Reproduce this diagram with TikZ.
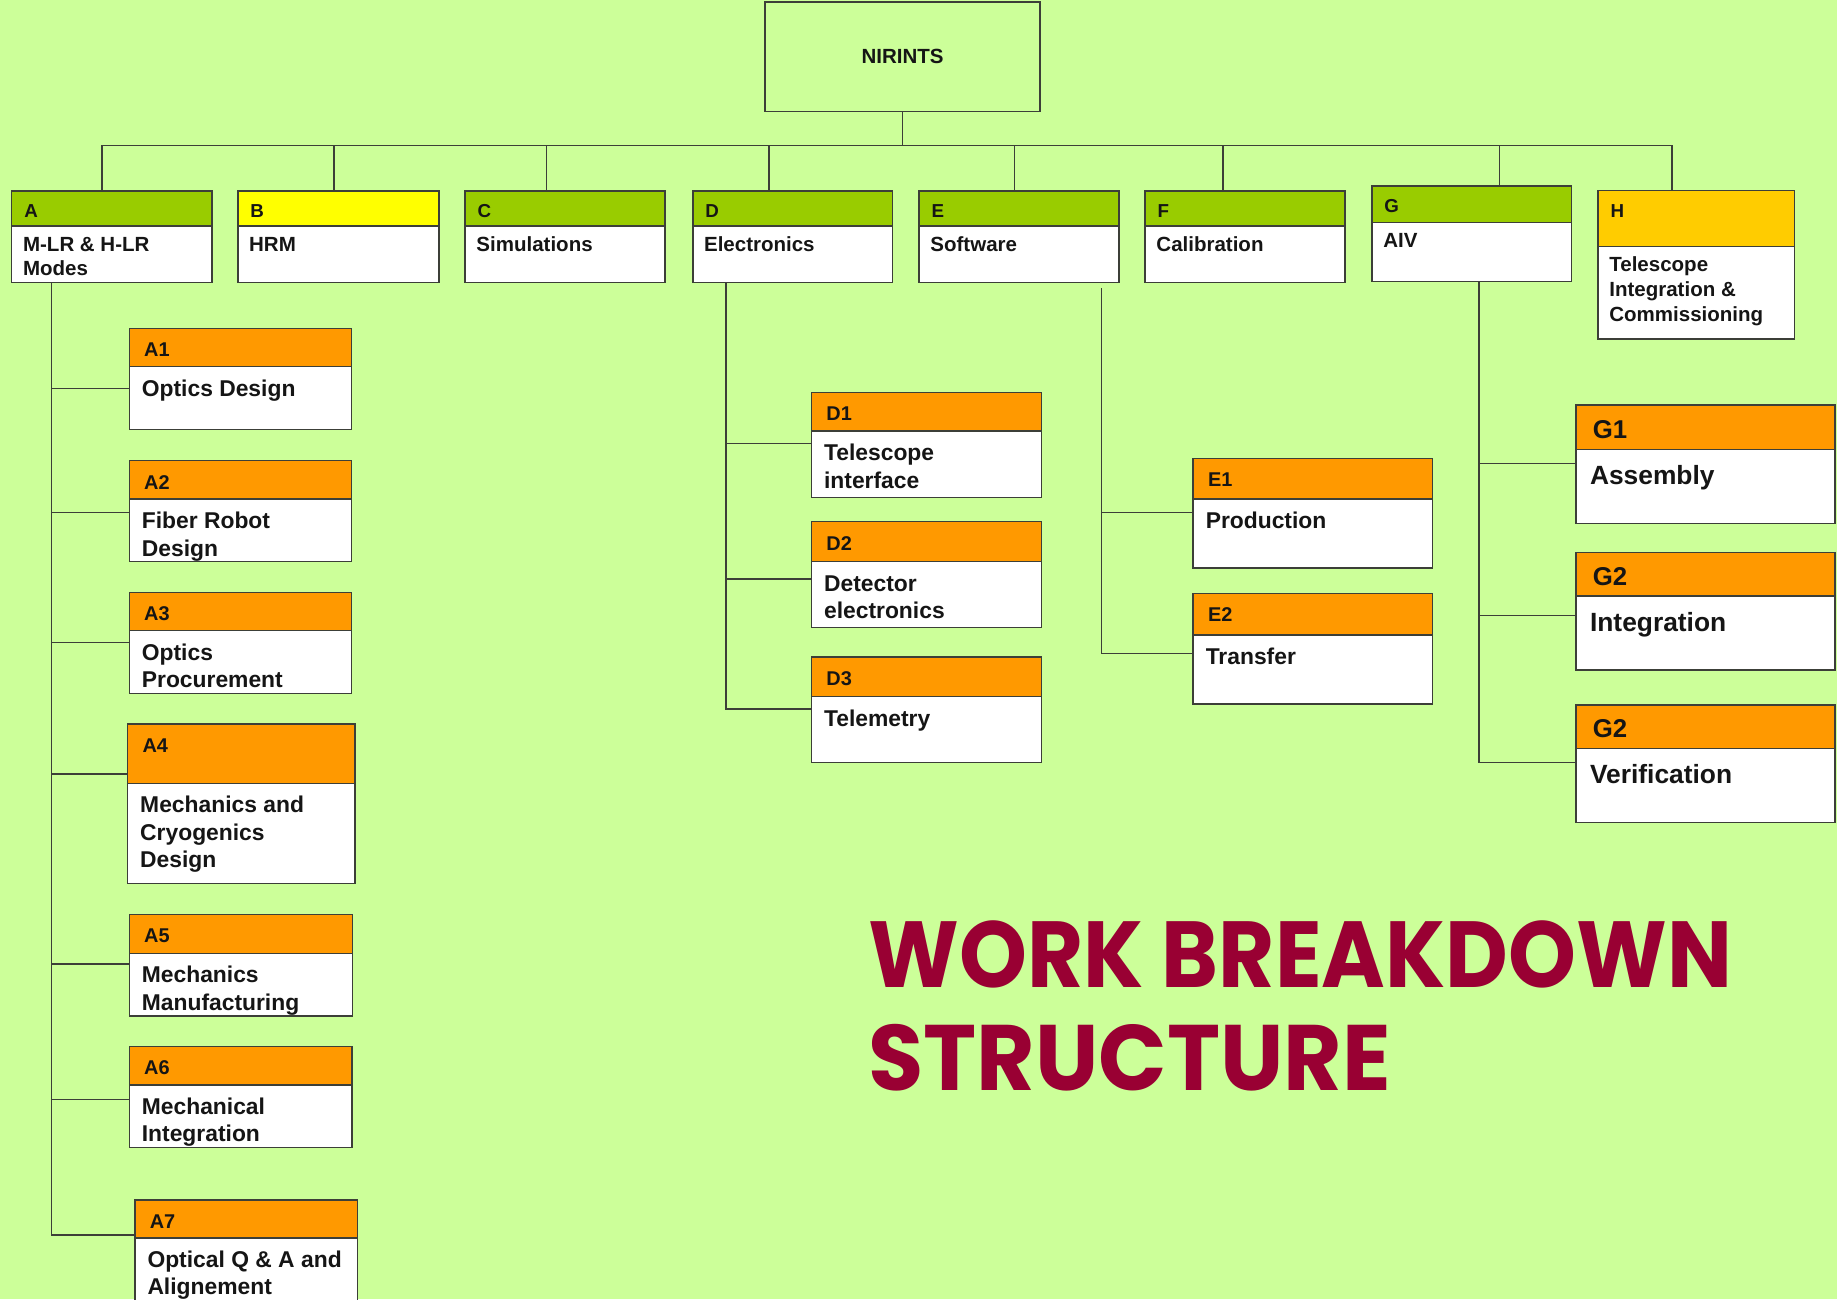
\documentclass[tikz,border=0pt]{standalone}
\usepackage{fontspec}
\setmainfont{Liberation Sans}
\newfontfamily\titlefont{Poppins}
\usepackage{graphicx}
\definecolor{bg}{HTML}{CCFF99}
\definecolor{topgreen}{HTML}{99CC00}
\definecolor{yel}{HTML}{FFFF00}
\definecolor{hgold}{HTML}{FFCC00}
\definecolor{org}{HTML}{FF9900}
\definecolor{titlec}{HTML}{990033}
\definecolor{linec}{HTML}{3C3F38}
\definecolor{txt}{HTML}{151515}
\tikzset{
  bx/.style={draw=linec, line width=1.3pt, fill=white, rectangle, anchor=north west, inner sep=0pt, outer sep=0pt},
  conn/.style={draw=linec, line width=1.3pt, line cap=rect},
  toplab/.style={anchor=west, inner sep=0pt, font=\fontsize{16}{19}\selectfont\bfseries, text=txt},
  topbody/.style={anchor=north west, inner sep=0pt, align=left, font=\fontsize{17.5}{21}\selectfont\bfseries, text=txt},
  sublab/.style={anchor=west, inner sep=0pt, font=\fontsize{17}{20}\selectfont\bfseries, text=txt},
  subbody/.style={anchor=north west, inner sep=0pt, align=left, font=\fontsize{19.5}{23.5}\selectfont\bfseries, text=txt},
  glab/.style={anchor=west, inner sep=0pt, font=\fontsize{22}{26}\selectfont\bfseries, text=txt},
  gbody/.style={anchor=north west, inner sep=0pt, align=left, font=\fontsize{22.5}{27}\selectfont\bfseries, text=txt},
}
% #1 name, #2 x1, #3 y1, #4 yh, #5 x2, #6 y2, #7 header colour, #8 label, #9 body
\newcommand\topbox[9]{%
  \node[bx, minimum width={(#5-#2)*1pt}, minimum height={(#6-#3)*1pt}] (#1) at (#2,#3) {};
  \node[bx, fill=#7, minimum width={(#5-#2)*1pt}, minimum height={(#4-#3)*1pt}] (#1h) at (#2,#3) {};
  \node[toplab] (#1l) at (#2+10.5,#3+17) {#8};
  \node[topbody] (#1t) at (#2+9.5,#4+15-11.2) {\rule{0pt}{1em}#9};
}
\newcommand\subbox[9]{%
  \node[bx, minimum width={(#5-#2)*1pt}, minimum height={(#6-#3)*1pt}] (#1) at (#2,#3) {};
  \node[bx, fill=#7, minimum width={(#5-#2)*1pt}, minimum height={(#4-#3)*1pt}] (#1h) at (#2,#3) {};
  \node[sublab] (#1l) at (#2+12.5,{#3+min((#4-#3)/2+2,18.5)}) {#8};
  \node[subbody] (#1t) at (#2+10.5,#4+18-12.5) {\rule{0pt}{1em}#9};
}
\newcommand\gbox[9]{%
  \node[bx, minimum width={(#5-#2)*1pt}, minimum height={(#6-#3)*1pt}] (#1) at (#2,#3) {};
  \node[bx, fill=#7, minimum width={(#5-#2)*1pt}, minimum height={(#4-#3)*1pt}] (#1h) at (#2,#3) {};
  \node[glab] (#1l) at (#2+14.4,{#3+(#4-#3)/2+2}) {#8};
  \node[gbody] (#1t) at (#2+12,#4+22-14.4) {\rule{0pt}{1em}#9};
}
\begin{document}
\begin{tikzpicture}[x=1pt,y=-1pt]
\fill[bg] (0,0) rectangle (1568,1108.8);
\useasboundingbox (0,0) rectangle (1568,1108.8);
\clip (0,0) rectangle (1568,1108.8);

% root
\node[draw=linec, line width=1.3pt, rectangle, anchor=north west, inner sep=0pt,
      minimum width=234.6pt, minimum height=93.7pt,
      font=\fontsize{17.5}{21}\selectfont\bfseries, text=txt] (NIR) at (652.4,1) {NIRINTS};

% top level
\topbox{A}{10}{163}{193}{181}{241.3}{topgreen}{A}{M-LR \& H-LR\\Modes}
\topbox{B}{203}{163}{193}{374.5}{241.3}{yel}{B}{HRM}
\topbox{C}{397}{163}{193}{567.6}{241.3}{topgreen}{C}{Simulations}
\topbox{D}{591.3}{163}{193}{762}{241.3}{topgreen}{D}{Electronics}
\topbox{E}{784.5}{163}{193}{955}{241.3}{topgreen}{E}{Software}
\topbox{F}{977.4}{163}{193}{1148}{241.3}{topgreen}{F}{Calibration}
\topbox{G}{1171}{158.8}{189.8}{1341.5}{240.4}{topgreen}{G}{AIV}
\topbox{H}{1364}{162.8}{210.5}{1531.8}{289.4}{hgold}{H}{Telescope\\Integration \&\\Commissioning}

% A children
\subbox{A1}{110.4}{280.2}{313}{300.2}{366.4}{org}{A1}{Optics Design}
\subbox{A2}{110.4}{393.2}{426}{300.2}{479.4}{org}{A2}{Fiber Robot\\Design}
\subbox{A3}{110.4}{505.6}{538.3}{300.2}{591.8}{org}{A3}{Optics\\Procurement}
\subbox{A4}{109}{618}{668.6}{303}{754.3}{org}{A4}{Mechanics and\\Cryogenics\\Design}
\subbox{A5}{110.4}{780.4}{813.7}{300.7}{867}{org}{A5}{Mechanics\\Manufacturing}
\subbox{A6}{110.4}{893.4}{926}{300.5}{979.6}{org}{A6}{Mechanical\\Integration}
\subbox{A7}{115.2}{1024.3}{1056.5}{305}{1140}{org}{A7}{Optical Q \& A and\\Alignement}

% D children
\subbox{D1}{692.7}{334.9}{367.9}{889}{424.5}{org}{D1}{Telescope\\interface}
\subbox{D2}{692.7}{445.3}{479.4}{889}{535.7}{org}{D2}{Detector\\electronics}
\subbox{D3}{692.7}{561}{594.6}{889}{650.7}{org}{D3}{Telemetry}

% E children
\subbox{E1}{1018.5}{391.2}{426}{1222.8}{485}{org}{E1}{Production}
\subbox{E2}{1018.5}{506.4}{542}{1222.8}{600.9}{org}{E2}{Transfer}

% G children
\gbox{G1}{1345}{345.7}{383.5}{1566.3}{446.7}{org}{G1}{Assembly}
\gbox{G2}{1345}{471.4}{508.7}{1566.3}{571.9}{org}{G2}{Integration}
\gbox{G3}{1345}{601.8}{638.7}{1566.3}{702.2}{org}{G2}{Verification}

% bus
\coordinate (busL) at (87,124);
\coordinate (busR) at (1427,124);
\draw[conn] (NIR.south) -- (NIR.south |- busL);
\draw[conn] (busL) -- (busR);
\foreach \n/\x in {A/87,B/285,C/466.5,D/656.6,E/866,F/1044,G/1280,H/1427}{
  \coordinate (d\n) at (\x,124);
  \draw[conn] (d\n) -- (d\n |- \n.north);
}

% A spine
\foreach \n/\y in {A1/331.5,A2/437.3,A3/548.3,A4/660.7,A5/822.8,A6/938.3,A7/1054}{
  \coordinate (r\n) at (44,\y);
  \draw[conn] (r\n) -- (r\n -| \n.west);
}
\draw[conn] (A.south -| rA1) -- (rA7);

% D spine
\foreach \n/\y in {D1/378.4,D2/494.2,D3/605.2}{
  \coordinate (r\n) at (619.5,\y);
  \draw[conn] (r\n) -- (r\n -| \n.west);
}
\draw[conn] (D.south -| rD1) -- (rD3);

% E spine
\coordinate (eTop) at (940,246.4);
\foreach \n/\y in {E1/437.3,E2/557.6}{
  \coordinate (r\n) at (940,\y);
  \draw[conn] (r\n) -- (r\n -| \n.west);
}
\draw[conn] (eTop) -- (rE2);

% G spine
\foreach \n/\y in {G1/395.5,G2/525.5,G3/650.7}{
  \coordinate (r\n) at (1262.4,\y);
  \draw[conn] (r\n) -- (r\n -| \n.west);
}
\draw[conn] (G.south -| rG1) -- (rG3);

% title
\node[anchor=base west, inner sep=0pt, text=titlec] (title1) at (741,842.7)
  {\resizebox{737pt}{57pt}{\titlefont\bfseries WORK BREAKDOWN}};
\node[anchor=base west, inner sep=0pt, text=titlec] (title2) at (741,930.4)
  {\resizebox{446pt}{56.5pt}{\titlefont\bfseries STRUCTURE}};
\end{tikzpicture}
\end{document}
